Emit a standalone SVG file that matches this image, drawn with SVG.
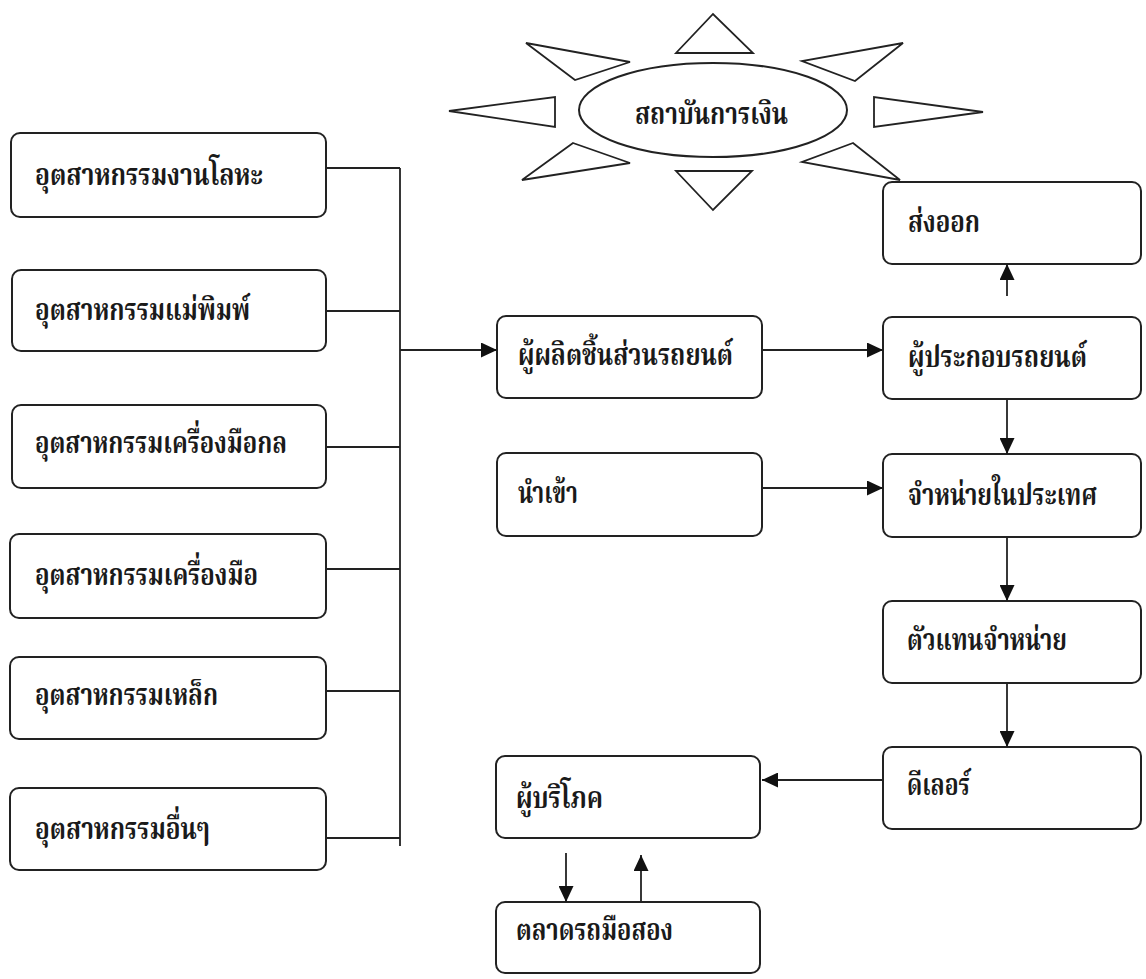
<svg xmlns="http://www.w3.org/2000/svg" width="1146" height="979" viewBox="0 0 1146 979">
<defs>
<style>
.bx{fill:#fff;stroke:#222;stroke-width:2}
.ln{fill:none;stroke:#222;stroke-width:1.8}
.tri{fill:#fff;stroke:#222;stroke-width:1.8;stroke-linejoin:miter}
.t{font-family:"Noto Serif Thai","Noto Sans Thai","TH Sarabun New","Loma","Garuda","Tlwg Typo","Liberation Serif",serif;font-size:31px;fill:#1a1a1a;font-weight:bold}
</style>
<marker id="ah" markerUnits="userSpaceOnUse" markerWidth="17" markerHeight="15" refX="16" refY="7.5" orient="auto">
<path d="M0,0 L16,7.5 L0,15 z" fill="#111"/>
</marker>
</defs>
<rect width="1146" height="979" fill="#fff"/>
<g id="sun">
<polygon class="tri" points="676,53 713,14 753,53"/>
<polygon class="tri" points="676,171 752,171 713,210"/>
<polygon class="tri" points="526,43 630,62 575,80"/>
<polygon class="tri" points="903,43 802,61 855,81"/>
<polygon class="tri" points="449,111 555,97 555,127"/>
<polygon class="tri" points="874,97 874,127 983,112"/>
<polygon class="tri" points="573,143 630,163 522,180"/>
<polygon class="tri" points="853,143 802,162 900,180"/>
<ellipse class="bx" cx="713" cy="110" rx="134" ry="47"/>
<text class="t" x="635" y="124" textLength="153" lengthAdjust="spacingAndGlyphs">สถาบันการเงิน</text>
</g>
<g id="n1"><rect class="bx" x="11" y="133" width="315" height="84" rx="9"/><text class="t" x="35" y="185" textLength="228" lengthAdjust="spacingAndGlyphs">อุตสาหกรรมงานโลหะ</text></g>
<g id="n2"><rect class="bx" x="12" y="270" width="314" height="81" rx="9"/><text class="t" x="35" y="320" textLength="215" lengthAdjust="spacingAndGlyphs">อุตสาหกรรมแม่พิมพ์</text></g>
<g id="n3"><rect class="bx" x="12" y="405" width="314" height="83" rx="9"/><text class="t" x="35" y="453" textLength="252" lengthAdjust="spacingAndGlyphs">อุตสาหกรรมเครื่องมือกล</text></g>
<g id="n4"><rect class="bx" x="10" y="534" width="316" height="84" rx="9"/><text class="t" x="35" y="585" textLength="223" lengthAdjust="spacingAndGlyphs">อุตสาหกรรมเครื่องมือ</text></g>
<g id="n5"><rect class="bx" x="10" y="657" width="316" height="82" rx="9"/><text class="t" x="35" y="705" textLength="183" lengthAdjust="spacingAndGlyphs">อุตสาหกรรมเหล็ก</text></g>
<g id="n6"><rect class="bx" x="10" y="788" width="316" height="82" rx="9"/><text class="t" x="35" y="839" textLength="175" lengthAdjust="spacingAndGlyphs">อุตสาหกรรมอื่นๆ</text></g>
<g id="n7"><rect class="bx" x="497" y="316" width="265" height="82" rx="9"/><text class="t" x="518" y="365" textLength="215" lengthAdjust="spacingAndGlyphs">ผู้ผลิตชิ้นส่วนรถยนต์</text></g>
<g id="n8"><rect class="bx" x="497" y="453" width="265" height="83" rx="9"/><text class="t" x="518" y="503" textLength="60" lengthAdjust="spacingAndGlyphs">นำเข้า</text></g>
<g id="n9"><rect class="bx" x="883" y="182" width="258" height="82" rx="9"/><text class="t" x="908" y="232" textLength="72" lengthAdjust="spacingAndGlyphs">ส่งออก</text></g>
<g id="n10"><rect class="bx" x="883" y="317" width="258" height="82" rx="9"/><text class="t" x="908" y="367" textLength="179" lengthAdjust="spacingAndGlyphs">ผู้ประกอบรถยนต์</text></g>
<g id="n11"><rect class="bx" x="883" y="454" width="258" height="83" rx="9"/><text class="t" x="908" y="505" textLength="189" lengthAdjust="spacingAndGlyphs">จำหน่ายในประเทศ</text></g>
<g id="n12"><rect class="bx" x="883" y="601" width="258" height="82" rx="9"/><text class="t" x="907" y="650" textLength="160" lengthAdjust="spacingAndGlyphs">ตัวแทนจำหน่าย</text></g>
<g id="n13"><rect class="bx" x="883" y="747" width="258" height="82" rx="9"/><text class="t" x="907" y="795" textLength="63" lengthAdjust="spacingAndGlyphs">ดีเลอร์</text></g>
<g id="n14"><rect class="bx" x="496" y="756" width="264" height="82" rx="9"/><text class="t" x="516" y="808" textLength="87" lengthAdjust="spacingAndGlyphs">ผู้บริโภค</text></g>
<g id="n15"><rect class="bx" x="496" y="902" width="264" height="71" rx="9"/><text class="t" x="516" y="940" textLength="157" lengthAdjust="spacingAndGlyphs">ตลาดรถมือสอง</text></g>
<g id="connectors">
<path class="ln" d="M326,168 H400 M326,311 H400 M326,447 H400 M326,569 H400 M326,691 H400 M326,838 H400 M400,168 V846"/>
<path class="ln" d="M400,350 H497" marker-end="url(#ah)"/>
<path class="ln" d="M762,350 H883" marker-end="url(#ah)"/>
<path class="ln" d="M762,488 H883" marker-end="url(#ah)"/>
<path class="ln" d="M1007,296 V264" marker-end="url(#ah)"/>
<path class="ln" d="M1007,399 V454" marker-end="url(#ah)"/>
<path class="ln" d="M1007,537 V601" marker-end="url(#ah)"/>
<path class="ln" d="M1007,683 V747" marker-end="url(#ah)"/>
<path class="ln" d="M883,780 H762" marker-end="url(#ah)"/>
<path class="ln" d="M566,853 V902" marker-end="url(#ah)"/>
<path class="ln" d="M641,902 V855" marker-end="url(#ah)"/>
</g>
</svg>
